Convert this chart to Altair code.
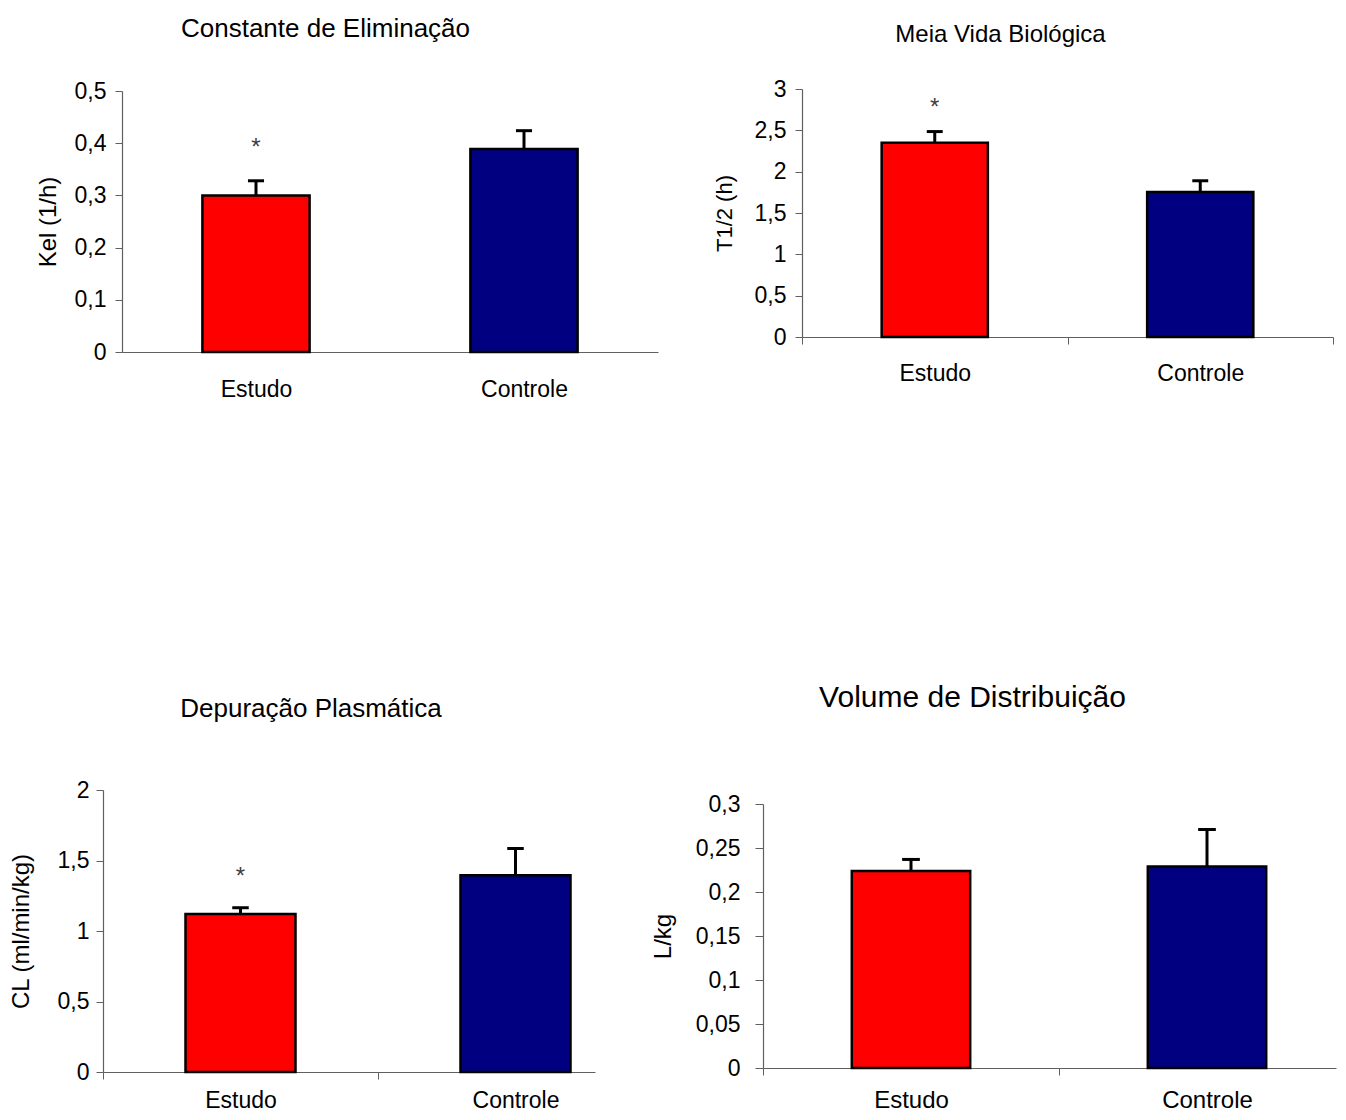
import altair as alt
import pandas as pd

FONT = "Liberation Sans"
GROUPS = ["Estudo", "Controle"]
COLORS = ["#FF0000", "#000080"]

# Panel data (mean, error above the mean, asterisk height)
KEL = [0.300, 0.389]
KEL_ERR = [0.028, 0.035]
KEL_STAR = [0.39, None]

T12 = [2.35, 1.755]
T12_ERR = [0.135, 0.135]
T12_STAR = [2.77, None]

CL = [1.12, 1.395]
CL_ERR = [0.045, 0.19]
CL_STAR = [1.385, None]

VD = [0.224, 0.229]
VD_ERR = [0.013, 0.042]
VD_STAR = [None, None]


def panel(values, errs, stars, title, title_size, title_offset, title_dx,
          ytitle, ytitle_size, ymax, ystep, width, height, xmax, show_xticks,
          y_tick, y_pad, y_title_pad, y_label_size, x_pad, x_label_size,
          xrange=None, yrange=None, yoffset=0):
    df = pd.DataFrame({
        "grupo": GROUPS,
        "idx": [0, 1],
        "valor": values,
        "erro": errs,
        "star": stars,
        "cor": COLORS,
    })
    n_ticks = int(round(ymax / ystep))
    yvals = [round(i * ystep, 4) for i in range(n_ticks + 1)]
    xvals = [v for v in [0, 0.5, 1, 1.5, 2] if v <= xmax + 1e-9]
    label_expr = (f"datum.value == 0.5 ? '{GROUPS[0]}' : "
                  f"datum.value == 1.5 ? '{GROUPS[1]}' : ''")
    if show_xticks:
        tick_op = {"condition": {"test": "datum.value % 1 == 0", "value": 1}, "value": 0}
    else:
        tick_op = 0

    xs = dict(domain=[0, xmax], nice=False, zero=False)
    if xrange is not None:
        xs["range"] = xrange
    xscale = alt.Scale(**xs)
    xaxis = alt.Axis(values=xvals, labelExpr=label_expr, title=None, grid=False,
                     tickOpacity=tick_op, tickSize=7, tickColor="#606060",
                     domainColor="#606060", domainWidth=1.2, labelFlush=False,
                     labelOverlap=False, labelPadding=x_pad, labelFont=FONT,
                     labelFontSize=x_label_size, labelColor="black")
    ys = dict(domain=[0, ymax], nice=False)
    if yrange is not None:
        ys["range"] = yrange
    yscale = alt.Scale(**ys)
    yaxis = alt.Axis(values=yvals, format=".2~f", labelExpr="replace(datum.label, '.', ',')",
                     title=ytitle, grid=False, tickSize=y_tick, tickColor="#606060",
                     domainColor="#606060", domainWidth=1.2, labelPadding=y_pad,
                     labelFont=FONT, labelFontSize=y_label_size, labelColor="black",
                     titleFont=FONT, titleFontSize=ytitle_size, titleFontWeight="normal",
                     titleColor="black", titlePadding=y_title_pad, labelOverlap=False,
                     offset=yoffset)

    base = alt.Chart(df).transform_calculate(
        pos="datum.idx + 0.5",
        x0="datum.idx + 0.3",
        x1="datum.idx + 0.7",
        c0="datum.idx + 0.47",
        c1="datum.idx + 0.53",
        top="datum.valor + datum.erro",
    )

    bars = base.mark_bar(stroke="black", strokeWidth=2.5).encode(
        x=alt.X("x0:Q", scale=xscale, axis=xaxis),
        x2="x1:Q",
        y=alt.Y("valor:Q", scale=yscale, axis=yaxis),
        y2=alt.datum(0),
        color=alt.Color("cor:N", scale=None, legend=None),
    )
    err = base.mark_rule(color="black", strokeWidth=3).encode(
        x=alt.X("pos:Q", scale=xscale, axis=xaxis),
        y=alt.Y("valor:Q", scale=yscale, axis=yaxis),
        y2="top:Q",
    )
    cap = base.mark_rule(color="black", strokeWidth=3).encode(
        x=alt.X("c0:Q", scale=xscale, axis=xaxis),
        x2="c1:Q",
        y=alt.Y("top:Q", scale=yscale, axis=yaxis),
    )
    layers = [bars, err, cap]
    if any(s is not None for s in stars):
        star = base.transform_filter("isValid(datum.star)").mark_text(
            text="*", font=FONT, fontSize=24, color="#404040", baseline="middle"
        ).encode(
            x=alt.X("pos:Q", scale=xscale, axis=xaxis),
            y=alt.Y("star:Q", scale=yscale, axis=yaxis),
        )
        layers.append(star)

    return alt.layer(*layers).properties(
        width=width, height=height,
        title=alt.TitleParams(title, font=FONT, fontSize=title_size, fontWeight="normal",
                              color="black", offset=title_offset, dx=title_dx,
                              anchor="middle"),
    )


p1 = panel(KEL, KEL_ERR, KEL_STAR, "Constante de Eliminação", 26, 38, -55,
           "Kel (1/h)", 24, 0.5, 0.1, 555, 263, 2.0, False,
           7, 9, 14, 23, 19, 23,
           xrange=[19, 555], yrange=[263, 2], yoffset=-19)
p2 = panel(T12, T12_ERR, T12_STAR, "Meia Vida Biológica", 24, 31, -67,
           "T1/2 (h)", 22, 3.0, 0.5, 531, 248, 2.0, True,
           7, 9, 18, 23, 18, 23)
p3 = panel(CL, CL_ERR, CL_STAR, "Depuração Plasmática", 26, 57, -38,
           "CL (ml/min/kg)", 24, 2.0, 0.5, 492, 282, 492 / 275, True,
           7, 7, 24, 23, 10, 23)
p4 = panel(VD, VD_ERR, VD_STAR, "Volume de Distribuição", 30, 77, -77,
           "L/kg", 24, 0.3, 0.05, 573, 278, 573 / 296, True,
           8, 15, 20, 23, 13, 24,
           yrange=[278, 14])

row1 = alt.hconcat(p1, p2, spacing=53)
row2 = alt.hconcat(p3, p4, spacing=54)

chart = alt.vconcat(row1, row2, spacing=280).properties(
    padding={"left": 0, "top": 7, "right": 0, "bottom": 0},
    background="white",
).configure_view(stroke="transparent")

chart.save("out.html", embed_options={"renderer": "svg", "actions": False})
